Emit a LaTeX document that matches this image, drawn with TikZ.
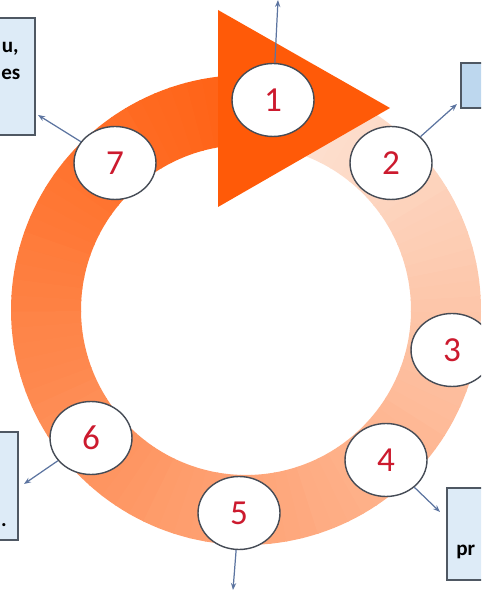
\documentclass[tikz,border=0pt]{standalone}
\usepackage{fontspec}
\setmainfont{Carlito}
\usepackage{tikz}
\usetikzlibrary{arrows.meta,shapes.geometric}
\usepackage{xcolor}
\definecolor{ringdark}{HTML}{FF6418}
\definecolor{ringpale}{HTML}{FDE2D3}
\definecolor{headcol}{HTML}{FF5A08}
\definecolor{circedge}{HTML}{454B55}
\definecolor{numred}{HTML}{CC1A2E}
\definecolor{linkcol}{HTML}{5C74A0}
\definecolor{boxfill}{HTML}{DDEBF7}
\definecolor{boxfilldark}{HTML}{BDD7EE}
\definecolor{boxedge}{HTML}{4F5863}

\begin{document}
\begin{tikzpicture}[
  x=0.02cm,y=0.02cm,
  numcircle/.style={ellipse,draw=circedge,fill=white,line width=0.8pt,inner sep=0pt,
    minimum width=1.64cm,minimum height=1.46cm,text=numred,font=\fontsize{20}{24}\selectfont},
  infobox/.style={rectangle,draw=boxedge,fill=boxfill,line width=0.9pt,inner sep=0pt},
  boxtext/.style={inner sep=0pt,font=\fontsize{12}{14}\selectfont\bfseries},
  link/.style={-{Stealth[length=4pt,width=3pt]},draw=linkcol,line width=0.7pt}
]
\useasboundingbox (0,0) rectangle (481,590);
\clip (0,0) rectangle (481,590);
% ring, dark at the head, pale at the tail
\foreach \i in {0,...,84}{
  \pgfmathsetmacro{\a}{-263.16+\i*3.978}
  \pgfmathsetmacro{\b}{\a+4.3}
  \pgfmathtruncatemacro{\p}{100*\i/84}
  \fill[ringpale!\p!ringdark] ([shift={(246,280)}]\a:235) arc[start angle=\a,end angle=\b,radius=235]
    -- ([shift={(246,280)}]\b:165) arc[start angle=\b,end angle=\a,radius=165] -- cycle;
}
\fill[ringdark] ([shift={(246,280)}]96.84:235) -- ([shift={(246,280)}]99.77:165)
  arc[start angle=99.77,end angle=96.84,radius=165] -- cycle;
% arrowhead
\fill[headcol] (218,580) -- (218,383) -- (390,482) -- cycle;
% text boxes (cut by the border)
\node[infobox,minimum width=1.0cm,minimum height=2.34cm] (boxa) at (10,513.5) {};
\node[infobox,fill=boxfilldark,minimum width=0.78cm,minimum height=0.9cm] (boxb) at (480.5,504.5) {};
\node[infobox,minimum width=0.76cm,minimum height=2.16cm] (boxc) at (-1,104) {};
\node[infobox,minimum width=1.06cm,minimum height=1.84cm] (boxd) at (473.5,56) {};
\node[boxtext,anchor=base east] (txta1) at (19,537) {u,};
\node[boxtext,anchor=base west] (txta2) at (1,510) {es};
\node[boxtext,anchor=base east] (txtc1) at (7,63) {.};
\node[boxtext,anchor=base west] (txtd1) at (456,34) {pr};
% numbered steps
\node[numcircle] (c1) at (273,490) {1};
\node[numcircle] (c2) at (391,427) {2};
\node[numcircle] (c3) at (452,240) {3};
\node[numcircle] (c4) at (386,130) {4};
\node[numcircle] (c5) at (239,77) {5};
\node[numcircle] (c6) at (91,152) {6};
\node[numcircle] (c7) at (115,427) {7};
% arrow ends
\coordinate (t1) at (278,590);
\coordinate (t2) at (457,486);
\coordinate (t4) at (440,78);
\coordinate (t5) at (233,0);
\coordinate (t6) at (24,106);
\coordinate (t7) at (38,475);
\draw[link] (c1) -- (t1);
\draw[link] (c2) -- (t2);
\draw[link] (c4) -- (t4);
\draw[link] (c5) -- (t5);
\draw[link] (c6) -- (t6);
\draw[link] (c7) -- (t7);
\end{tikzpicture}
\end{document}
